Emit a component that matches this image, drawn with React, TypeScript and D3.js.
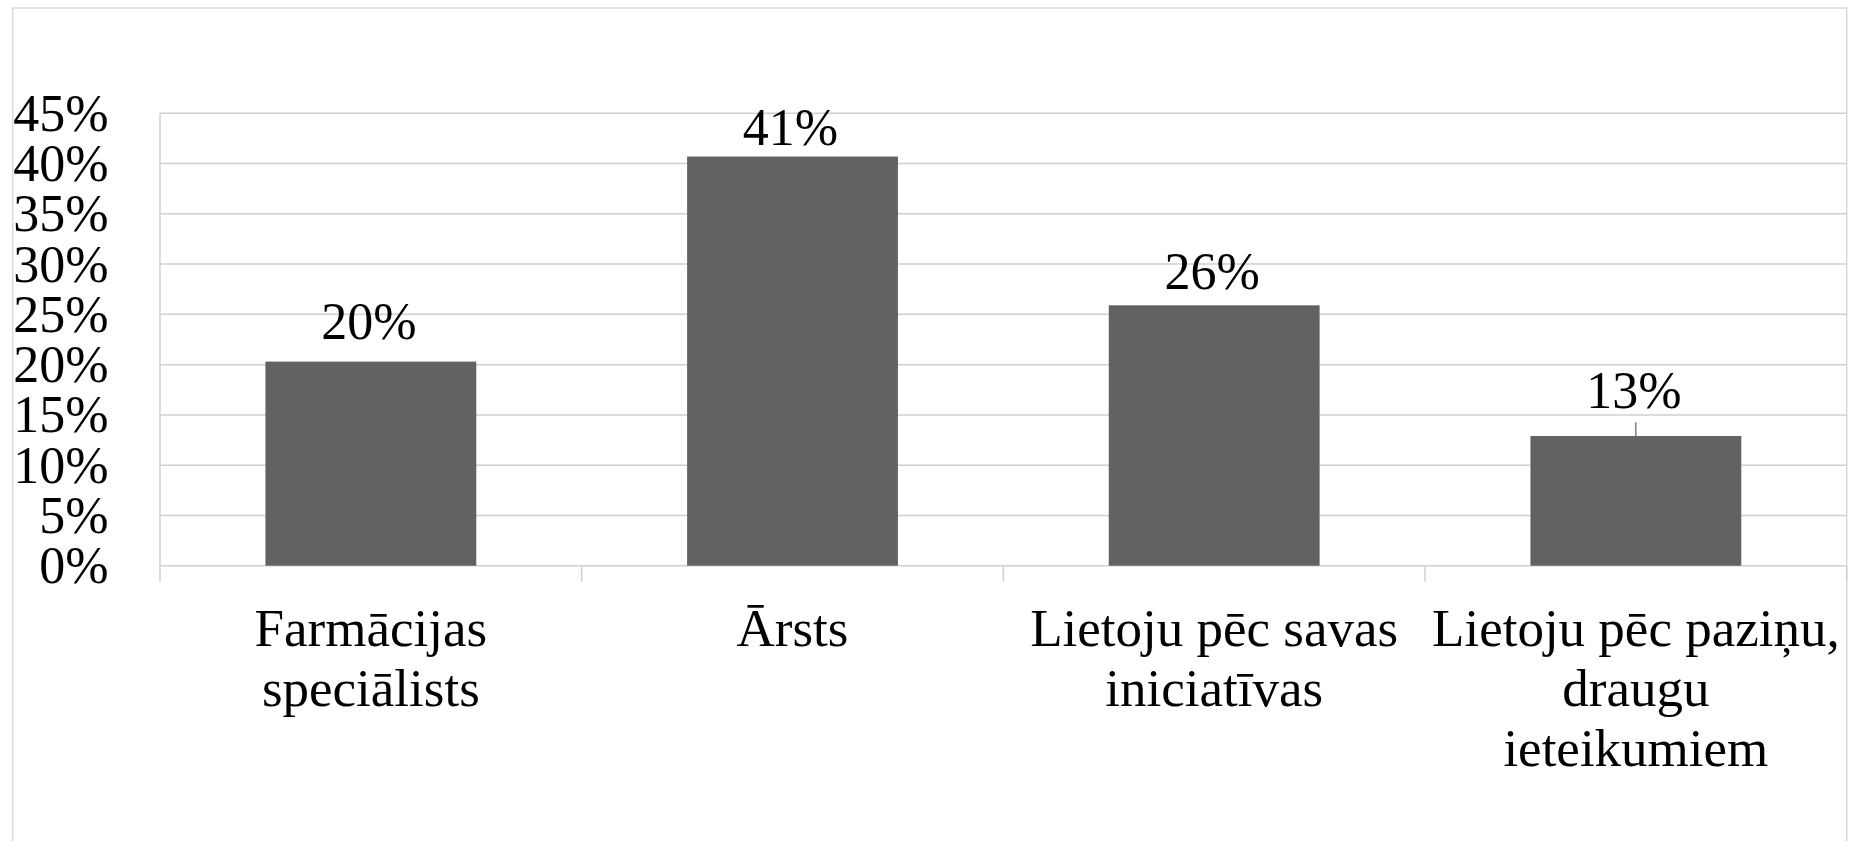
import React, { useEffect, useRef } from "react";
import * as d3 from "d3";

const categories: string[][] = [
  ["Farmācijas", "speciālists"],
  ["Ārsts"],
  ["Lietoju pēc savas", "iniciatīvas"],
  ["Lietoju pēc paziņu,", "draugu", "ieteikumiem"],
];
const values: number[] = [0.203, 0.407, 0.259, 0.129];
const yTicks: number[] = [0, 0.05, 0.1, 0.15, 0.2, 0.25, 0.3, 0.35, 0.4, 0.45];
// manual label lift above bar top (px), as placed in the original
const labelLift: number[] = [22.7, 11.3, 16.4, 27.7];

const W = 1853;
const H = 841;
const plot = { left: 160, right: 1846.7, top: 113.3, bottom: 565.7 };
const GRID = "#d0d0d0";
const FONT = "Times";

export default function App() {
  const ref = useRef<SVGSVGElement>(null);

  useEffect(() => {
    const svg = d3.select(ref.current);
    svg.selectAll("*").remove();
    const idx = categories.map((_, i) => String(i));
    const x = d3.scaleBand<string>().domain(idx).range([plot.left, plot.right]).paddingInner(0.5).paddingOuter(0.25);
    const band = d3.scaleBand<string>().domain(idx).range([plot.left, plot.right]);
    const y = d3.scaleLinear().domain([0, 0.45]).range([plot.bottom, plot.top]);
    const fmt = d3.format(".0%");

    svg.append("rect").attr("x", 12.7).attr("y", 8).attr("width", 1834).attr("height", 900)
      .attr("fill", "#fff").attr("stroke", "#d9d9d9").attr("stroke-width", 1.5);

    svg.selectAll("line.grid").data(yTicks).join("line").attr("class", "grid")
      .attr("x1", plot.left).attr("x2", plot.right).attr("y1", (d) => y(d)).attr("y2", (d) => y(d))
      .attr("stroke", GRID).attr("stroke-width", 1.5);

    svg.append("line").attr("x1", plot.left).attr("x2", plot.left).attr("y1", plot.top).attr("y2", plot.bottom + 16)
      .attr("stroke", GRID).attr("stroke-width", 1.5);

    svg.selectAll("line.tick").data(idx).join("line").attr("class", "tick")
      .attr("x1", (d) => (band(d) as number) + band.bandwidth()).attr("x2", (d) => (band(d) as number) + band.bandwidth())
      .attr("y1", plot.bottom).attr("y2", plot.bottom + 16).attr("stroke", GRID).attr("stroke-width", 1.5);

    svg.selectAll("text.yl").data(yTicks).join("text").attr("class", "yl")
      .attr("x", 108.5).attr("y", (d) => y(d) + 17.5).attr("text-anchor", "end")
      .style("font-family", FONT).style("font-size", "52px").attr("fill", "#000").text((d) => fmt(d));

    const g = svg.selectAll("g.bar").data(values).join("g").attr("class", "bar");
    g.append("rect").attr("x", (_, i) => x(String(i)) as number).attr("y", (d) => y(d))
      .attr("width", x.bandwidth()).attr("height", (d) => plot.bottom - y(d)).attr("fill", "#626262");
    g.append("text").attr("x", (_, i) => (x(String(i)) as number) + x.bandwidth() / 2 - 2)
      .attr("y", (d, i) => y(d) - labelLift[i]).attr("text-anchor", "middle")
      .style("font-family", FONT).style("font-size", "52px").attr("fill", "#000").text((d) => fmt(d));
    g.filter((_, i) => labelLift[i] > 25).append("line")
      .attr("x1", (_, i) => 0).attr("x2", 0);
    values.forEach((v, i) => {
      if (labelLift[i] > 25) {
        const cx = (x(String(i)) as number) + x.bandwidth() / 2;
        svg.append("line").attr("x1", cx).attr("x2", cx).attr("y1", y(v) - labelLift[i] + 14).attr("y2", y(v))
          .attr("stroke", "#404040").attr("stroke-width", 1);
      }
    });

    const cat = svg.selectAll("text.cat").data(categories).join("text").attr("class", "cat")
      .attr("text-anchor", "middle").style("font-family", FONT).style("font-size", "53px").attr("fill", "#000");
    cat.each(function (lines, i) {
      const cx = (band(String(i)) as number) + band.bandwidth() / 2;
      d3.select(this).selectAll("tspan").data(lines).join("tspan")
        .attr("x", cx).attr("y", (_, j) => 646 + j * 60).text((d) => d);
    });
  }, []);

  return (
    <svg ref={ref} width={W} height={H} style={{ position: "absolute", left: 0, top: 0, background: "#fff" }} />
  );
}
